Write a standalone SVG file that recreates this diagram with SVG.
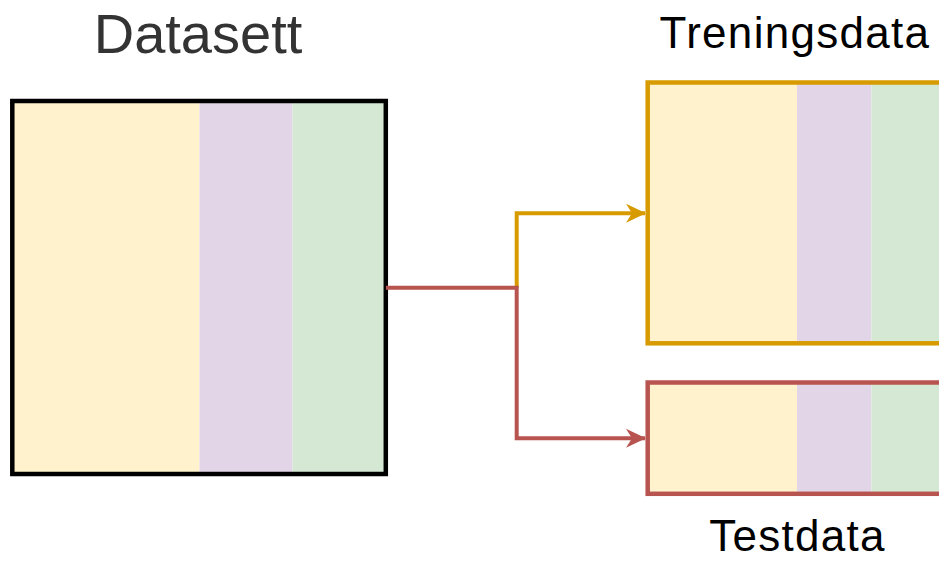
<svg xmlns="http://www.w3.org/2000/svg" width="939" height="561" viewBox="0 0 939 561">
  <style>
    .label { font-family: "Liberation Sans", Arial, Helvetica, sans-serif; text-anchor: middle; }
    .split { font-size: 44px; letter-spacing: 1.3px; fill: #000000; }
    .c1 { fill: #fff2cc; }
    .c2 { fill: #e1d5e7; }
    .c3 { fill: #d5e8d4; }
    .frame { fill: none; stroke-width: 4.5; }
    .wire { fill: none; stroke-width: 4; stroke-linejoin: miter; }
  </style>
  <defs>
    <marker id="arrowOrange" markerUnits="userSpaceOnUse" markerWidth="20" markerHeight="20" viewBox="0 0 20 20" refX="19" refY="10" orient="auto">
      <path d="M0,0.5 L20,10 L0,19.5 L6,10 Z" fill="#d79b00"/>
    </marker>
    <marker id="arrowRed" markerUnits="userSpaceOnUse" markerWidth="20" markerHeight="20" viewBox="0 0 20 20" refX="19" refY="10" orient="auto">
      <path d="M0,0.5 L20,10 L0,19.5 L6,10 Z" fill="#b85450"/>
    </marker>
  </defs>

  <!-- Full dataset -->
  <g id="datasett">
    <rect class="c1" x="12" y="101" width="187.5" height="373"/>
    <rect class="c2" x="199.5" y="101" width="93" height="373"/>
    <rect class="c3" x="292.5" y="101" width="93.5" height="373"/>
    <rect class="frame" x="12.3" y="101" width="373.5" height="373" stroke="#000000"/>
    <text class="label" x="198" y="53" font-size="56" fill="#333333">Datasett</text>
  </g>

  <!-- Training split -->
  <g id="treningsdata">
    <rect class="c1" x="648" y="82.5" width="149" height="261"/>
    <rect class="c2" x="797" y="82.5" width="74.5" height="261"/>
    <rect class="c3" x="871.5" y="82.5" width="100" height="261"/>
    <rect class="frame" x="647.7" y="82.5" width="330" height="260.8" stroke="#d79b00"/>
    <text class="label split" x="795" y="48">Treningsdata</text>
  </g>

  <!-- Test split -->
  <g id="testdata">
    <rect class="c1" x="648" y="382.5" width="149" height="111.3"/>
    <rect class="c2" x="797" y="382.5" width="74.5" height="111.3"/>
    <rect class="c3" x="871.5" y="382.5" width="100" height="111.3"/>
    <rect class="frame" x="647.7" y="382.5" width="330" height="111.3" stroke="#b85450"/>
    <text class="label split" x="797.5" y="551">Testdata</text>
  </g>

  <!-- Connectors -->
  <g id="connectors">
    <path class="wire" d="M516.7,287.7 V213.3 H645" stroke="#d79b00" marker-end="url(#arrowOrange)"/>
    <path class="wire" d="M386,287.7 H516.7 V438.3 H645" stroke="#b85450" marker-end="url(#arrowRed)"/>
  </g>
</svg>
